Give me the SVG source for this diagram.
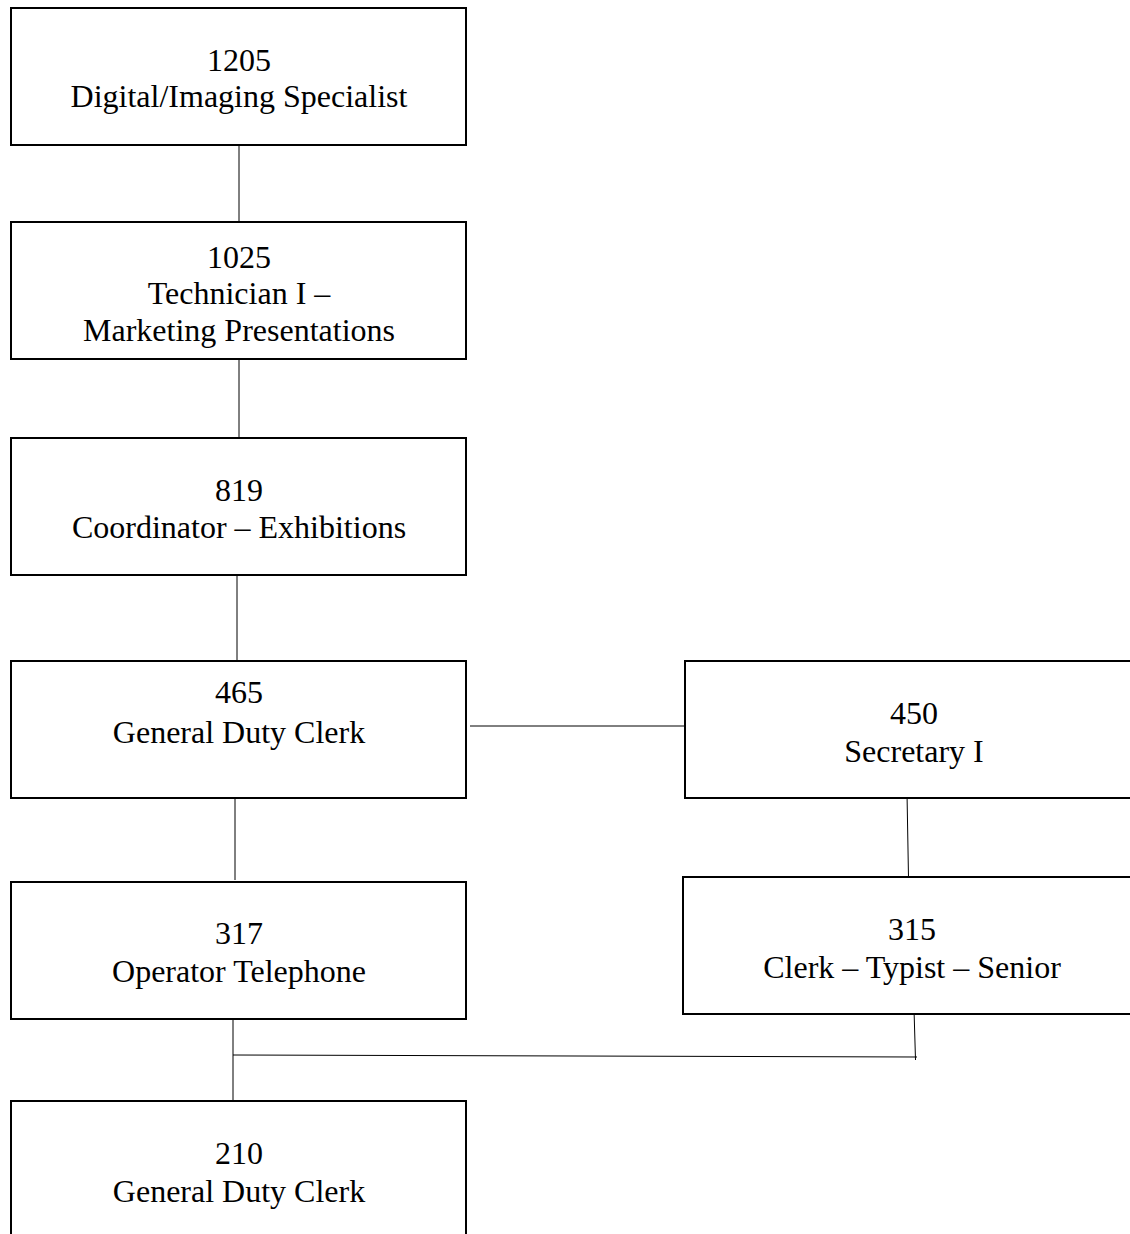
<svg xmlns="http://www.w3.org/2000/svg" width="1130" height="1234" viewBox="0 0 1130 1234">
  <style>
    .box { fill: #fff; stroke: #000; stroke-width: 2; }
    .lbl { font-family: "Liberation Serif", "Times New Roman", serif; font-size: 32px; fill: #000; text-anchor: middle; }
    .wire { stroke: #000; stroke-width: 1; fill: none; }
  </style>
  <rect width="1130" height="1234" fill="#fff"/>

  <!-- reporting lines -->
  <g id="connectors">
    <line class="wire" x1="239" y1="134" x2="239" y2="222"/>
    <line class="wire" x1="239" y1="360" x2="239" y2="437"/>
    <line class="wire" x1="237" y1="573" x2="237" y2="660"/>
    <line class="wire" x1="235" y1="790" x2="235" y2="880"/>
    <line class="wire" x1="470" y1="726" x2="685" y2="726"/>
    <line class="wire" x1="907" y1="793" x2="908.5" y2="878"/>
    <line class="wire" x1="233" y1="1011" x2="233" y2="1101"/>
    <line class="wire" x1="233" y1="1055" x2="917" y2="1057"/>
    <line class="wire" x1="914" y1="1009" x2="915.5" y2="1060"/>
  </g>

  <g id="n1205">
    <rect class="box" x="11" y="8" width="455" height="137"/>
    <text class="lbl" x="239" y="71">1205</text>
    <text class="lbl" x="239" y="107">Digital/Imaging Specialist</text>
  </g>
  <g id="n1025">
    <rect class="box" x="11" y="222" width="455" height="137"/>
    <text class="lbl" x="239" y="268">1025</text>
    <text class="lbl" x="239" y="304">Technician I –</text>
    <text class="lbl" x="239" y="341">Marketing Presentations</text>
  </g>
  <g id="n819">
    <rect class="box" x="11" y="438" width="455" height="137"/>
    <text class="lbl" x="239" y="501">819</text>
    <text class="lbl" x="239" y="538">Coordinator – Exhibitions</text>
  </g>
  <g id="n465">
    <rect class="box" x="11" y="661" width="455" height="137"/>
    <text class="lbl" x="239" y="703">465</text>
    <text class="lbl" x="239" y="743">General Duty Clerk</text>
  </g>
  <g id="n450">
    <rect class="box" x="685" y="661" width="450" height="137"/>
    <text class="lbl" x="914" y="724">450</text>
    <text class="lbl" x="914" y="762">Secretary I</text>
  </g>
  <g id="n317">
    <rect class="box" x="11" y="882" width="455" height="137"/>
    <text class="lbl" x="239" y="944">317</text>
    <text class="lbl" x="239" y="982">Operator Telephone</text>
  </g>
  <g id="n315">
    <rect class="box" x="683" y="877" width="452" height="137"/>
    <text class="lbl" x="912" y="940">315</text>
    <text class="lbl" x="912" y="978">Clerk – Typist – Senior</text>
  </g>
  <g id="n210">
    <rect class="box" x="11" y="1101" width="455" height="150"/>
    <text class="lbl" x="239" y="1164">210</text>
    <text class="lbl" x="239" y="1202">General Duty Clerk</text>
  </g>
</svg>
